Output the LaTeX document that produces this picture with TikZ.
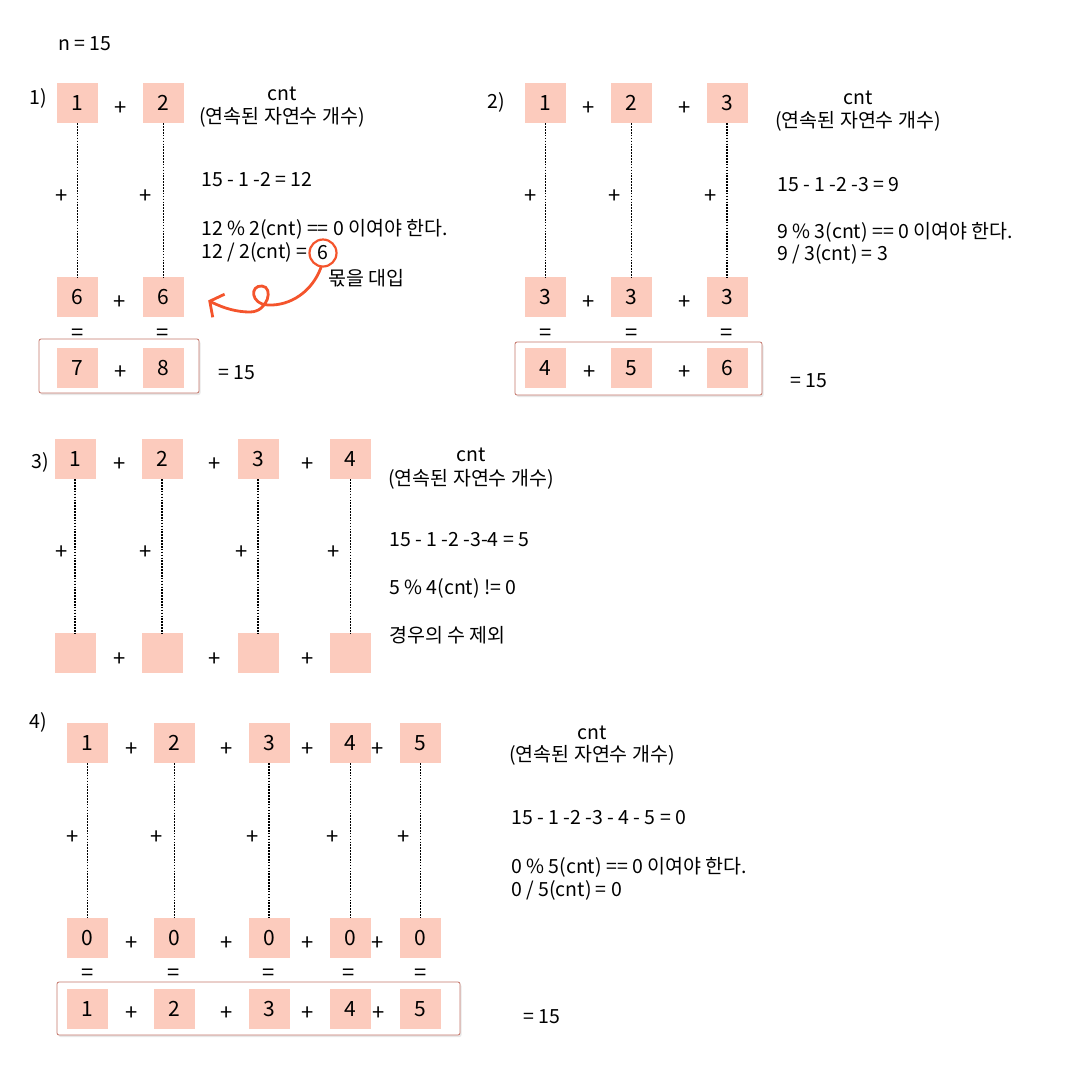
\documentclass[tikz,border=0pt]{standalone}
\usepackage{fontspec}
\setmainfont{Noto Sans CJK KR}
\definecolor{numpink}{RGB}{252,203,189}
\definecolor{markred}{RGB}{244,84,44}
\definecolor{framered}{RGB}{196,118,106}
\usetikzlibrary{arrows.meta,positioning,shadows}

\begin{document}
\begin{tikzpicture}[
      x=1pt, y=-1pt,
      numbox/.style={fill=numpink, minimum width=41pt, minimum height=40pt, inner sep=0pt, font=\fontsize{21}{21}\selectfont},
      op/.style={inner sep=0pt, font=\fontsize{22}{22}\selectfont},
      txt/.style={anchor=west, inner sep=0pt, font=\fontsize{19.5}{22}\selectfont},
      lbl/.style={inner sep=0pt, font=\fontsize{19.5}{22}\selectfont},
      link/.style={line width=1.6pt, dash pattern=on 1.6pt off 1.3pt},
      frame/.style={draw=framered, fill=white, line width=0.8pt, rounded corners=2pt, drop shadow={shadow xshift=1.5pt, shadow yshift=-2pt, opacity=0.18}},
      curvy/.style={markred, line width=2.8pt, line cap=round, -{Straight Barb[length=10pt,width=26pt]}}
    ]
      \useasboundingbox (0,0) rectangle (1080,1080);
      \node[txt] (n) at (58,44) {n = 15};

      % Case 1
      \node[lbl] (t1) at (38,98) {1)};
      \node[numbox] (a11) at (77.5,103) {1};
      \node[numbox] (a12) at (163.5,103) {2};
      \node[numbox, below=154pt of a11] (b11) {6};
      \node[numbox, below=154pt of a12] (b12) {6};
      \draw[frame] (39,339) rectangle (199,393);
      \node[numbox, below=30pt of b11] (c11) {7};
      \node[numbox, below=30pt of b12] (c12) {8};
      \draw[link] (a11) -- (b11);
      \draw[link] (a12) -- (b12);
      \node[op] (o11) at (121,109) {+};
      \node[op] (o12) at (62,197) {+};
      \node[op] (o13) at (146,197) {+};
      \node[op] (o14) at (120,303) {+};
      \node[op] (o15) at (121,373) {+};
      \node[op] (e11) at (78,335) {=};
      \node[op] (e12) at (163,335) {=};
      \node[txt] (s1) at (218,373) {= 15};
      \node[lbl] (k1) at (282,94) {cnt};
      \node[lbl] (k1b) at (282,117) {(연속된 자연수 개수)};
      \node[txt] (r11) at (201,180) {15 - 1 -2 = 12};
      \node[txt] (r12) at (201,229) {12 \% 2(cnt) == 0 이여야 한다.};
      \node[txt] (r13) at (201,252) {12 / 2(cnt) =};
      \node[lbl, circle, draw=markred, line width=2.2pt, minimum size=27pt, inner sep=0pt] (q1) at (323,253) {6};
      \node[txt] (m1) at (328,278) {몫을 대입};
      \draw[curvy] (q1.262) .. controls (312,292) and (290,306) .. (268,305)
        .. controls (250,304) and (250,285) .. (262,286)
        .. controls (274,287) and (268,312) .. (250,312)
        .. controls (238,312) and (225,309) .. ([xshift=24pt,yshift=-3pt]b12.east);

      % Case 2
      \node[lbl] (t2) at (496,102) {2)};
      \node[numbox] (a21) at (545.5,103) {1};
      \node[numbox] (a22) at (631.5,103) {2};
      \node[numbox] (a23) at (727,103) {3};
      \node[numbox, below=154pt of a21] (b21) {3};
      \node[numbox, below=154pt of a22] (b22) {3};
      \node[numbox, below=154pt of a23] (b23) {3};
      \draw[frame] (515,342) rectangle (762,395);
      \node[numbox, below=30pt of b21] (c21) {4};
      \node[numbox, below=30pt of b22] (c22) {5};
      \node[numbox, below=30pt of b23] (c23) {6};
      \draw[link] (a21) -- (b21);
      \draw[link] (a22) -- (b22);
      \draw[link] (a23) -- (b23);
      \node[op] (o21) at (589,109) {+};
      \node[op] (o22) at (685,109) {+};
      \node[op] (o23) at (531,197) {+};
      \node[op] (o24) at (615,197) {+};
      \node[op] (o25) at (711,197) {+};
      \node[op] (o26) at (589,303) {+};
      \node[op] (o27) at (685,303) {+};
      \node[op] (o28) at (590,373) {+};
      \node[op] (o29) at (685,373) {+};
      \node[op] (e21) at (546,335) {=};
      \node[op] (e22) at (632,335) {=};
      \node[op] (e23) at (727,335) {=};
      \node[txt] (s2) at (790,381) {= 15};
      \node[lbl] (k2) at (858,98) {cnt};
      \node[lbl] (k2b) at (858,121) {(연속된 자연수 개수)};
      \node[txt] (r21) at (777,185) {15 - 1 -2 -3 = 9};
      \node[txt] (r22) at (777,232) {9 \% 3(cnt) == 0 이여야 한다.};
      \node[txt] (r23) at (777,254) {9 / 3(cnt) = 3};

      % Case 3
      \node[lbl] (t3) at (40,462) {3)};
      \node[numbox] (a31) at (75,459) {1};
      \node[numbox] (a32) at (162,459) {2};
      \node[numbox] (a33) at (258,459) {3};
      \node[numbox] (a34) at (350.5,459) {4};
      \node[numbox, below=154pt of a31] (b31) {};
      \node[numbox, below=154pt of a32] (b32) {};
      \node[numbox, below=154pt of a33] (b33) {};
      \node[numbox, below=154pt of a34] (b34) {};
      \draw[link] (a31) -- (b31);
      \draw[link] (a32) -- (b32);
      \draw[link] (a33) -- (b33);
      \draw[link] (a34) -- (b34);
      \node[op] (o31) at (120,465) {+};
      \node[op] (o32) at (215,465) {+};
      \node[op] (o33) at (308,465) {+};
      \node[op] (o34) at (62,553) {+};
      \node[op] (o35) at (146,553) {+};
      \node[op] (o36) at (242,553) {+};
      \node[op] (o37) at (334,553) {+};
      \node[op] (o38) at (120,660) {+};
      \node[op] (o39) at (215,660) {+};
      \node[op] (o3a) at (308,660) {+};
      \node[lbl] (k3) at (471,455) {cnt};
      \node[lbl] (k3b) at (471,479) {(연속된 자연수 개수)};
      \node[txt] (r31) at (389,540) {15 - 1 -2 -3-4 = 5};
      \node[txt] (r32) at (389,588) {5 \% 4(cnt) != 0};
      \node[txt] (r33) at (389,635) {경우의 수 제외};

      % Case 4
      \node[lbl] (t4) at (38,722) {4)};
      \node[numbox] (a41) at (87.5,743) {1};
      \node[numbox] (a42) at (174.5,743) {2};
      \node[numbox] (a43) at (269,743) {3};
      \node[numbox] (a44) at (350.5,743) {4};
      \node[numbox] (a45) at (420.5,743) {5};
      \node[numbox, below=155pt of a41] (b41) {0};
      \node[numbox, below=155pt of a42] (b42) {0};
      \node[numbox, below=155pt of a43] (b43) {0};
      \node[numbox, below=155pt of a44] (b44) {0};
      \node[numbox, below=155pt of a45] (b45) {0};
      \draw[frame] (57,982) rectangle (460,1035);
      \node[numbox, below=30pt of b41] (c41) {1};
      \node[numbox, below=30pt of b42] (c42) {2};
      \node[numbox, below=30pt of b43] (c43) {3};
      \node[numbox, below=30pt of b44] (c44) {4};
      \node[numbox, below=30pt of b45] (c45) {5};
      \draw[link] (a41) -- (b41);
      \draw[link] (a42) -- (b42);
      \draw[link] (a43) -- (b43);
      \draw[link] (a44) -- (b44);
      \draw[link] (a45) -- (b45);
      \node[op] (o41) at (132,750) {+};
      \node[op] (o42) at (227,750) {+};
      \node[op] (o43) at (308,750) {+};
      \node[op] (o44) at (378,750) {+};
      \node[op] (o45) at (73,838) {+};
      \node[op] (o46) at (157,838) {+};
      \node[op] (o47) at (253,838) {+};
      \node[op] (o48) at (333,838) {+};
      \node[op] (o49) at (404,838) {+};
      \node[op] (o4a) at (132,944) {+};
      \node[op] (o4b) at (227,944) {+};
      \node[op] (o4c) at (308,944) {+};
      \node[op] (o4d) at (378,944) {+};
      \node[op] (o4e) at (132,1014) {+};
      \node[op] (o4f) at (227,1014) {+};
      \node[op] (o4g) at (308,1014) {+};
      \node[op] (o4h) at (379,1014) {+};
      \node[op] (e41) at (88,975) {=};
      \node[op] (e42) at (174,975) {=};
      \node[op] (e43) at (269,975) {=};
      \node[op] (e44) at (349,975) {=};
      \node[op] (e45) at (421,975) {=};
      \node[txt] (s4) at (523,1017) {= 15};
      \node[lbl] (k4) at (592,733) {cnt};
      \node[lbl] (k4b) at (592,755) {(연속된 자연수 개수)};
      \node[txt] (r41) at (511,818) {15 - 1 -2 -3 - 4 - 5 = 0};
      \node[txt] (r42) at (511,867) {0 \% 5(cnt) == 0 이여야 한다.};
      \node[txt] (r43) at (511,890) {0 / 5(cnt) = 0};
    \end{tikzpicture}
\end{document}
